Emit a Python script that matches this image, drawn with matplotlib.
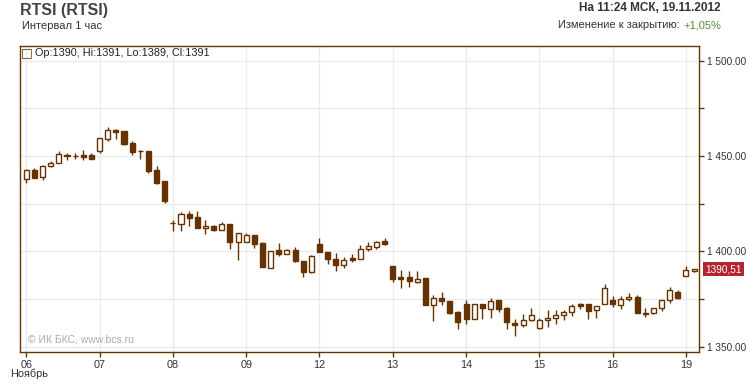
import numpy as np
import matplotlib
matplotlib.use("Agg")
import matplotlib.pyplot as plt
from matplotlib.ticker import FixedLocator, FuncFormatter

plt.rcParams["font.family"] = ["Liberation Sans", "DejaVu Sans"]

# ── Data: hourly RTSI candles, 06.11 – 19.11.2012 ──
days = ["06", "07", "08", "09", "12", "13", "14", "15", "16", "19"]
bars_per_day = 9

opens = [1438.2, 1442.6, 1438.8, 1444.6, 1446.1, 1450.5, 1450.1, 1450.7, 1450.5,
         1452.8, 1458.8, 1463.7, 1463.2, 1456.8, 1452.6, 1452.6, 1442.6, 1436.8,
         1414.7, 1414.6, 1419.8, 1417.9, 1412.5, 1413.5, 1411.4, 1414.6, 1405.1,
         1405.1, 1408.7, 1404.2, 1391.3, 1400.5, 1398.8, 1400.5, 1394.8, 1389.2,
         1403.7, 1399.8, 1396.2, 1392.8, 1396.5, 1396.2, 1401.4, 1402.4, 1405.2,
         1392.1, 1386.4, 1386.5, 1384.1, 1385.8, 1372.0, 1375.3, 1373.8, 1368.0,
         1372.6, 1364.7, 1372.6, 1369.9, 1374.3, 1370.1, 1362.6, 1361.4, 1364.2,
         1360.0, 1364.2, 1365.2, 1366.6, 1368.4, 1372.2, 1372.2, 1369.4, 1372.6,
         1374.7, 1371.9, 1375.0, 1376.2, 1367.3, 1367.7, 1370.5, 1374.7, 1378.8,
         1387.3, 1389.9]
highs = [1443.0, 1443.5, 1445.3, 1447.2, 1452.5, 1451.6, 1451.6, 1453.2, 1451.4,
         1459.3, 1465.3, 1464.2, 1463.2, 1457.9, 1453.2, 1452.6, 1444.7, 1436.8,
         1416.3, 1420.4, 1421.1, 1421.1, 1416.3, 1414.0, 1415.6, 1414.6, 1409.6,
         1409.8, 1408.7, 1404.7, 1400.3, 1404.2, 1401.4, 1402.1, 1394.8, 1398.3,
         1406.8, 1399.8, 1399.3, 1396.9, 1398.4, 1403.1, 1405.1, 1405.6, 1407.2,
         1392.5, 1390.0, 1389.7, 1389.5, 1385.8, 1376.9, 1378.5, 1373.8, 1368.5,
         1374.5, 1372.6, 1372.6, 1375.7, 1374.3, 1370.8, 1364.3, 1367.3, 1370.5,
         1365.2, 1369.1, 1369.4, 1369.1, 1372.2, 1372.9, 1372.2, 1371.5, 1382.7,
         1376.7, 1376.7, 1378.1, 1376.9, 1370.1, 1370.5, 1374.7, 1381.5, 1379.9,
         1392.3, 1391.0]
lows = [1436.0, 1438.6, 1437.5, 1444.0, 1446.1, 1447.7, 1448.2, 1448.0, 1448.6,
        1451.8, 1458.1, 1459.1, 1455.9, 1450.7, 1448.6, 1440.9, 1435.6, 1425.4,
        1410.7, 1410.7, 1413.3, 1412.3, 1409.3, 1410.9, 1411.4, 1401.2, 1395.6,
        1405.1, 1401.7, 1391.8, 1391.3, 1397.6, 1398.8, 1394.4, 1386.5, 1388.6,
        1399.7, 1393.4, 1389.7, 1391.3, 1394.4, 1396.2, 1400.2, 1401.4, 1403.5,
        1383.9, 1380.8, 1381.3, 1383.6, 1371.9, 1363.5, 1371.9, 1367.1, 1359.1,
        1361.9, 1364.7, 1364.7, 1365.0, 1368.2, 1359.3, 1355.8, 1360.3, 1363.3,
        1359.4, 1360.3, 1361.9, 1364.2, 1366.1, 1369.9, 1364.7, 1365.0, 1372.6,
        1370.8, 1369.8, 1374.1, 1367.7, 1365.6, 1367.1, 1368.7, 1372.9, 1375.0,
        1387.3, 1389.0]
closes = [1442.6, 1438.6, 1444.7, 1446.3, 1451.1, 1449.8, 1450.1, 1449.6, 1448.6,
          1459.3, 1463.5, 1462.8, 1456.3, 1452.3, 1452.6, 1442.3, 1436.0, 1426.5,
          1414.7, 1419.8, 1417.5, 1412.3, 1413.5, 1411.2, 1414.6, 1404.9, 1409.6,
          1408.7, 1403.8, 1391.8, 1400.0, 1398.6, 1400.5, 1394.9, 1389.2, 1397.7,
          1399.7, 1396.0, 1392.8, 1395.6, 1395.5, 1401.4, 1402.6, 1405.1, 1403.8,
          1385.7, 1385.5, 1384.6, 1385.7, 1371.9, 1375.3, 1374.0, 1367.5, 1362.9,
          1364.5, 1372.6, 1370.3, 1374.0, 1369.9, 1362.9, 1361.5, 1364.2, 1366.6,
          1364.2, 1365.2, 1366.8, 1368.4, 1371.5, 1371.5, 1368.9, 1371.5, 1380.9,
          1372.6, 1375.2, 1376.2, 1367.7, 1367.3, 1370.5, 1374.7, 1379.5, 1375.5,
          1390.0, 1390.51]

last_price = 1390.51
change_pct = "+1,05%"

# ── Style ──
BROWN = "#663300"
GRID = "#ebebeb"
TEXT = "#333333"

fig = plt.figure(figsize=(7.49, 3.92), dpi=100)
ax = fig.add_axes([20 / 749, 1 - 352 / 392, 679 / 749, 306.3 / 392])

o = np.array(opens); h = np.array(highs); l = np.array(lows); c = np.array(closes)
x = np.arange(len(o))
up = c >= o

# wicks
ax.vlines(x, l, h, color=BROWN, lw=1.0, zorder=2)
# bodies (hollow = up, filled = down)
bottom = np.minimum(o, c)
height = np.maximum(np.abs(c - o), 0.15)
ax.bar(x[up], height[up], bottom=bottom[up], width=0.62,
       facecolor="white", edgecolor=BROWN, lw=1.0, zorder=3)
ax.bar(x[~up], height[~up], bottom=bottom[~up], width=0.62,
       facecolor=BROWN, edgecolor=BROWN, lw=1.0, zorder=3)

ax.set_xlim(-0.77, 82.6)
ax.set_ylim(1347.2, 1507.9)

# ticks
day_pos = np.arange(len(days)) * bars_per_day
ax.set_xticks(day_pos)
ax.set_xticklabels(days)
ax.yaxis.tick_right()
ax.yaxis.set_major_locator(FixedLocator([1350, 1400, 1450, 1500]))
ax.yaxis.set_minor_locator(FixedLocator([1375, 1425, 1475]))
ax.yaxis.set_major_formatter(FuncFormatter(lambda v, p: f"{v:,.2f}".replace(",", " ")))
ax.tick_params(axis="both", which="both", colors=BROWN, labelcolor=TEXT,
               labelsize=7.2, length=3.5, width=1)
ax.tick_params(axis="y", which="both", pad=2)
ax.tick_params(axis="x", pad=2, labelsize=7.8)

ax.grid(True, which="both", color=GRID, lw=1)
ax.set_axisbelow(True)
for s in ax.spines.values():
    s.set_color(BROWN)
    s.set_linewidth(1)

# header texts
fig.text(20 / 749, 1 - 10 / 392, "RTSI (RTSI)", fontsize=11.5, fontweight="bold",
         color="#444444", va="center", ha="left")
fig.text(22 / 749, 1 - 26 / 392, "Интервал 1 час", fontsize=8, color=TEXT,
         va="center", ha="left")
fig.text(721 / 749, 1 - 8 / 392, "На 11:24 МСК, 19.11.2012", fontsize=8.5,
         fontweight="bold", color=TEXT, va="center", ha="right")
t_pct = fig.text(721 / 749, 1 - 25 / 392, change_pct, fontsize=8, color="#5a8a3a",
                 va="center", ha="right")
fig.canvas.draw()
bb = t_pct.get_window_extent()
fig.text(bb.x0 / fig.bbox.width - 0.004, 1 - 25 / 392, "Изменение к закрытию:",
         fontsize=8, color=TEXT, va="center", ha="right")

# legend line
fig.text(27 / 749, 1 - 53 / 392, "□", fontsize=9, color=BROWN, va="center", ha="center",
         family="DejaVu Sans")
fig.text(35 / 749, 1 - 53 / 392,
         f"Op:{round(opens[-1])}, Hi:{round(highs[-1])}, Lo:{round(lows[-1])}, Cl:{round(closes[-1])}",
         fontsize=7.8, color="#222222", va="center", ha="left")

# watermark
fig.text(28 / 749, 1 - 340 / 392, "© ИК БКС, www.bcs.ru", fontsize=7.5,
         color="#aaaaaa", va="center", ha="left")

# month label
fig.text(10 / 749, 1 - 374 / 392, "Ноябрь", fontsize=7.8, color=TEXT,
         va="center", ha="left")

# last price tag
ax.annotate(f"{last_price:.2f}".replace(".", ","), xy=(1, last_price),
            xycoords=("axes fraction", "data"), xytext=(4.5, 0),
            textcoords="offset points", fontsize=7.2, color="white",
            va="center", ha="left",
            bbox=dict(boxstyle="square,pad=0.2", fc="#b3262d", ec="none"))

fig.savefig("out.png", dpi=100)
